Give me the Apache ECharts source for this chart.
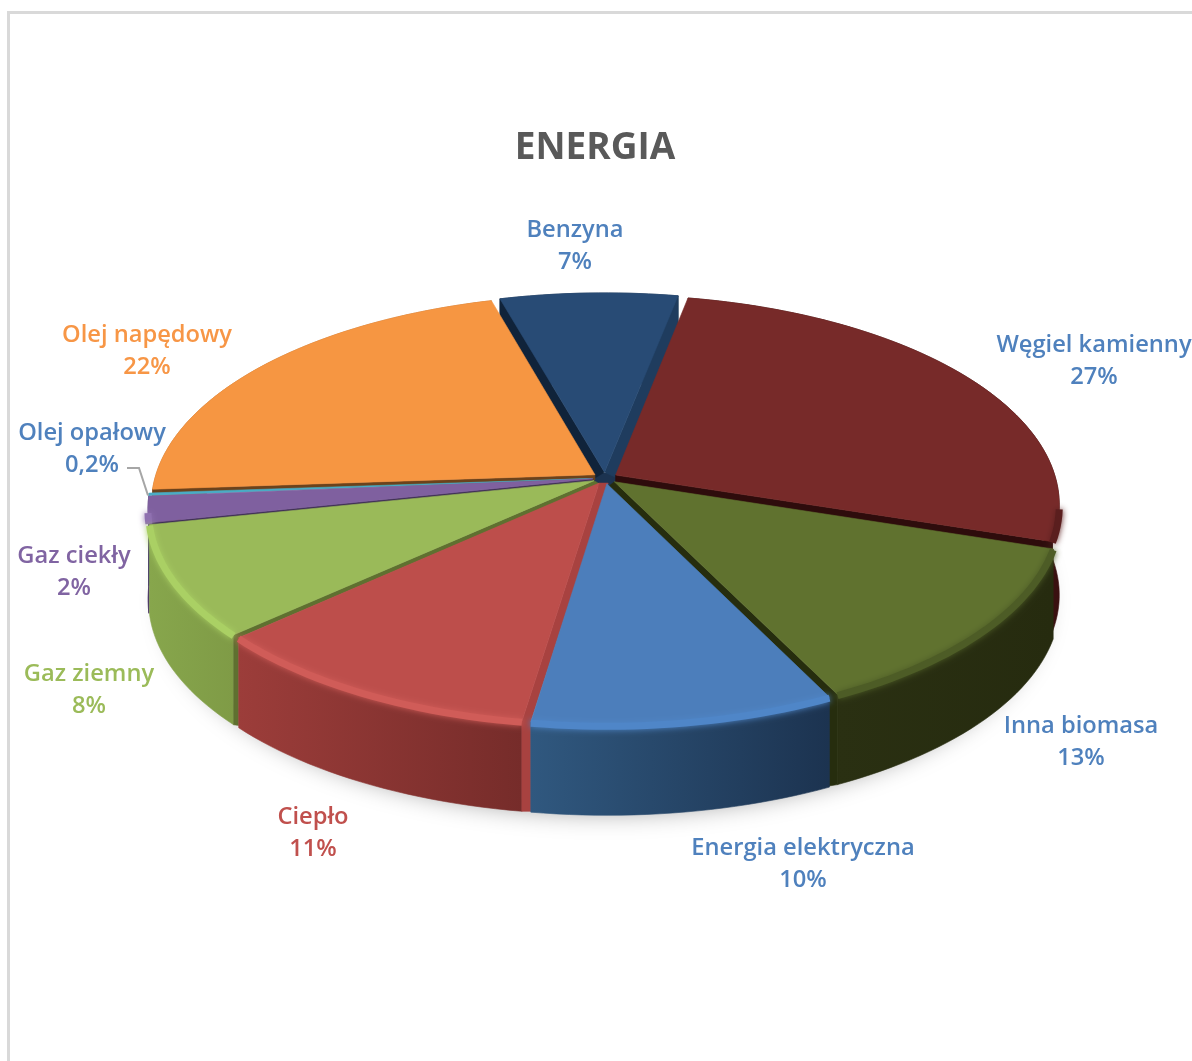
<!DOCTYPE html>
<html><head><meta charset="utf-8">
<style>html,body{margin:0;padding:0;background:#fff}#c{width:1192px;height:1061px}</style>
<script src="https://cdn.jsdelivr.net/npm/echarts@6/dist/echarts.min.js"></script>
</head><body><div id="c"></div>
<script>
// ---- data ----
const categories = ['Węgiel kamienny','Inna biomasa','Energia elektryczna','Ciepło','Gaz ziemny','Gaz ciekły','Olej opałowy','Olej napędowy','Benzyna'];
const shares = [26.9,12.7,9.6,10.8,8.45,2,0.2,21.7,7.4];
const shareLabels = ['27%','13%','10%','11%','8%','2%','0,2%','22%','7%'];

// ---- styles ----
const topColors  = ['#772a29','#60722f','#4c7ebb','#bd4e4b','#9aba59','#7f609f','#4aacc5','#f69642','#284b75'];
const rimColors  = ['#5a1e1e','#4d5c26','#4f86c8','#d05c58','#aad064','#8f70b0','#4aacc5','#f8a050','#284b75'];
const wallLeft   = ['#3a1010','#2a3012','#30587f','#9c3d3a','#87a64c','#5f4a7a','#3a8a9e','#b86e2c','#1c3350'];
const wallRight  = ['#3a1010','#262b0f','#1c3350','#762c2a','#7f9b46','#5f4a7a','#3a8a9e','#b86e2c','#1c3350'];
const labelColors= ['#4f81bd','#4f81bd','#4f81bd','#c0504d','#9bbb59','#8064a2','#4f81bd','#f79646','#4f81bd'];
const startCutColors = ['#2e0c0c','#262d0e','#1c3350','#a84240','#5f7030','#3f2f55','#3a8a9e','#6b421c','#10233a'];
const endCutColors   = ['#2e0c0c','#262d0e','#1c3350','#762c2a','#5f7030','#3f2f55','#3a8a9e','#6b421c','#1f3c5e'];
// strip offsets of the cut faces [dx,dy]
const startCutOffsets = [[0,0],[0,0],[0,0],[9,0],[5,3],[0,3],[0,0],[0,5],[-10,6]];
const endCutOffsets   = [[0,10],[-10,8],[0,0],[0,0],[0,0],[0,0],[0,0],[0,0],[11,5]];
const labelCenters = [[1094,361],[1081,742],[803,864],[313,833],[89,690],[74,572],[92,449],[147,351],[575,246]];

// ---- projection layout ----
const CX=605, CY=478, RX=440, RY=206, K=0.14, DEPTH=90, EXPLODE=0.028, START_DEG=11;
const total = shares.reduce((a,b)=>a+b,0);
const rad = d=>d*Math.PI/180;
const slices=[]; { let a=START_DEG; shares.forEach(s=>{const e=a+s/total*360; slices.push([a,e]); a=e;}); }
const proj=(u,v)=>{const w=1-K*v; return [CX+RX*u/w, CY+RY*v/w];};
const disc=(deg,r)=>[r*Math.sin(rad(deg)), -r*Math.cos(rad(deg))];
const order = slices.map((s,i)=>[i,disc((s[0]+s[1])/2,1)[1]]).sort((a,b)=>a[1]-b[1]).map(x=>x[0]);
const pt=(deg,r,ox,oy)=>{const d=disc(deg,r); return proj(d[0]+ox,d[1]+oy);};

function arc(a0,a1,ox,oy,r){
  const n=Math.max(2,Math.ceil(Math.abs(a1-a0)/1.5)), out=[];
  for(let j=0;j<=n;j++){ out.push(pt(a0+(a1-a0)*j/n,r===undefined?1:r,ox,oy)); }
  return out;
}
function poly(points,fill,z2,stroke,sw){
  return {type:'polygon',z2:z2,silent:true,shape:{points:points},style:{fill:fill,stroke:stroke||fill,lineWidth:sw===undefined?0.6:sw}};
}
function cut(tip,corner,off,color,z2){
  const q=[tip,corner,[corner[0],corner[1]+DEPTH],[corner[0]+off[0],corner[1]+DEPTH+off[1]*0.2],[corner[0]+off[0],corner[1]+off[1]],[tip[0]+off[0],tip[1]+off[1]]];
  return poly(q,color,z2);
}
function renderSlice(params,api){
  const i=params.dataIndex;
  const share=api.value(0);
  const a0=slices[i][0], a1=a0+share/total*360, mid=(a0+a1)/2;
  const m=disc(mid,EXPLODE), ox=m[0], oy=m[1];
  const base=(order.indexOf(i)+1)*10;
  const rim=arc(a0,a1,ox,oy), tip=proj(ox,oy);
  const kids=[];
  // outer wall
  const low=rim.map(p=>[p[0],p[1]+DEPTH]).reverse();
  kids.push(poly(rim.concat(low),{type:'linear',x:0,y:0,x2:1,y2:0,colorStops:[{offset:0,color:wallLeft[i]},{offset:1,color:wallRight[i]}]},base+1));
  // cut faces
  const so=startCutOffsets[i], eo=endCutOffsets[i];
  if(so[0]||so[1]) kids.push(cut(tip,rim[0],so,startCutColors[i],base+2));
  if(eo[0]||eo[1]) kids.push(cut(tip,rim[rim.length-1],eo,endCutColors[i],base+2));
  // top
  kids.push(poly([tip].concat(rim),topColors[i],base+3));
  // bevel highlight on the front rim
  const front=rim.filter(p=>p[1]>CY+30);
  if(front.length>2){
    kids.push({type:'polyline',z2:base+4,silent:true,shape:{points:front.map(p=>[p[0],p[1]+1])},
      style:{fill:null,stroke:rimColors[i],lineWidth:7,shadowBlur:6,shadowColor:rimColors[i],lineCap:'butt'}});
  }
  // label
  const c=labelCenters[i];
  kids.push({type:'text',z2:500,silent:true,style:{x:c[0],y:c[1],text:api.value(1)+'\n'+shareLabels[i],align:'center',verticalAlign:'middle',
    fill:labelColors[i],font:'600 23.7px "Open Sans"',lineHeight:32}});
  // leader line of the thin slice
  if(share<1){
    const e=rim[Math.floor(rim.length/2)];
    kids.push({type:'polyline',z2:400,silent:true,shape:{points:[[c[0]+35,c[1]+19],[c[0]+47,c[1]+19],[e[0]-1,e[1]+1]]},style:{fill:null,stroke:'#a6a6a6',lineWidth:2}});
  }
  return {type:'group',children:kids};
}
function renderBase(params,api){
  const pts=arc(0,360,0,0).map(p=>[CX+(p[0]-CX)*0.985,p[1]+DEPTH-4]);
  const hub=arc(0,360,0,0.01,0.035);
  return {type:'group',children:[
    {type:'polygon',silent:true,z2:0,shape:{points:pts},style:{fill:'#e2e2e2',shadowBlur:26,shadowColor:'rgba(0,0,0,0.4)',shadowOffsetY:8}},
    {type:'polygon',silent:true,z2:1,shape:{points:hub},style:{fill:'#1c3350'}}
  ]};
}
const chart=echarts.init(document.getElementById('c'),null,{renderer:'canvas'});
chart.setOption({
  animation:false,
  backgroundColor:'#fff',
  title:{text:'ENERGIA',left:590,top:125,textAlign:'center',textStyle:{color:'#595959',fontSize:37,fontWeight:'bold',fontFamily:'Open Sans'}},
  graphic:[{type:'rect',z:-1,silent:true,shape:{x:8.5,y:12.5,width:1400,height:1400},style:{fill:'none',stroke:'#d9d9d9',lineWidth:3}}],
  series:[
    {type:'custom',coordinateSystem:'none',silent:true,z:1,renderItem:renderBase,data:[[0]]},
    {type:'custom',coordinateSystem:'none',silent:true,z:2,renderItem:renderSlice,
     encode:{itemName:1},
     dimensions:['share',{name:'name',type:'ordinal'}],
     data:categories.map((n,i)=>[shares[i],n])}
  ]
});
</script></body></html>
